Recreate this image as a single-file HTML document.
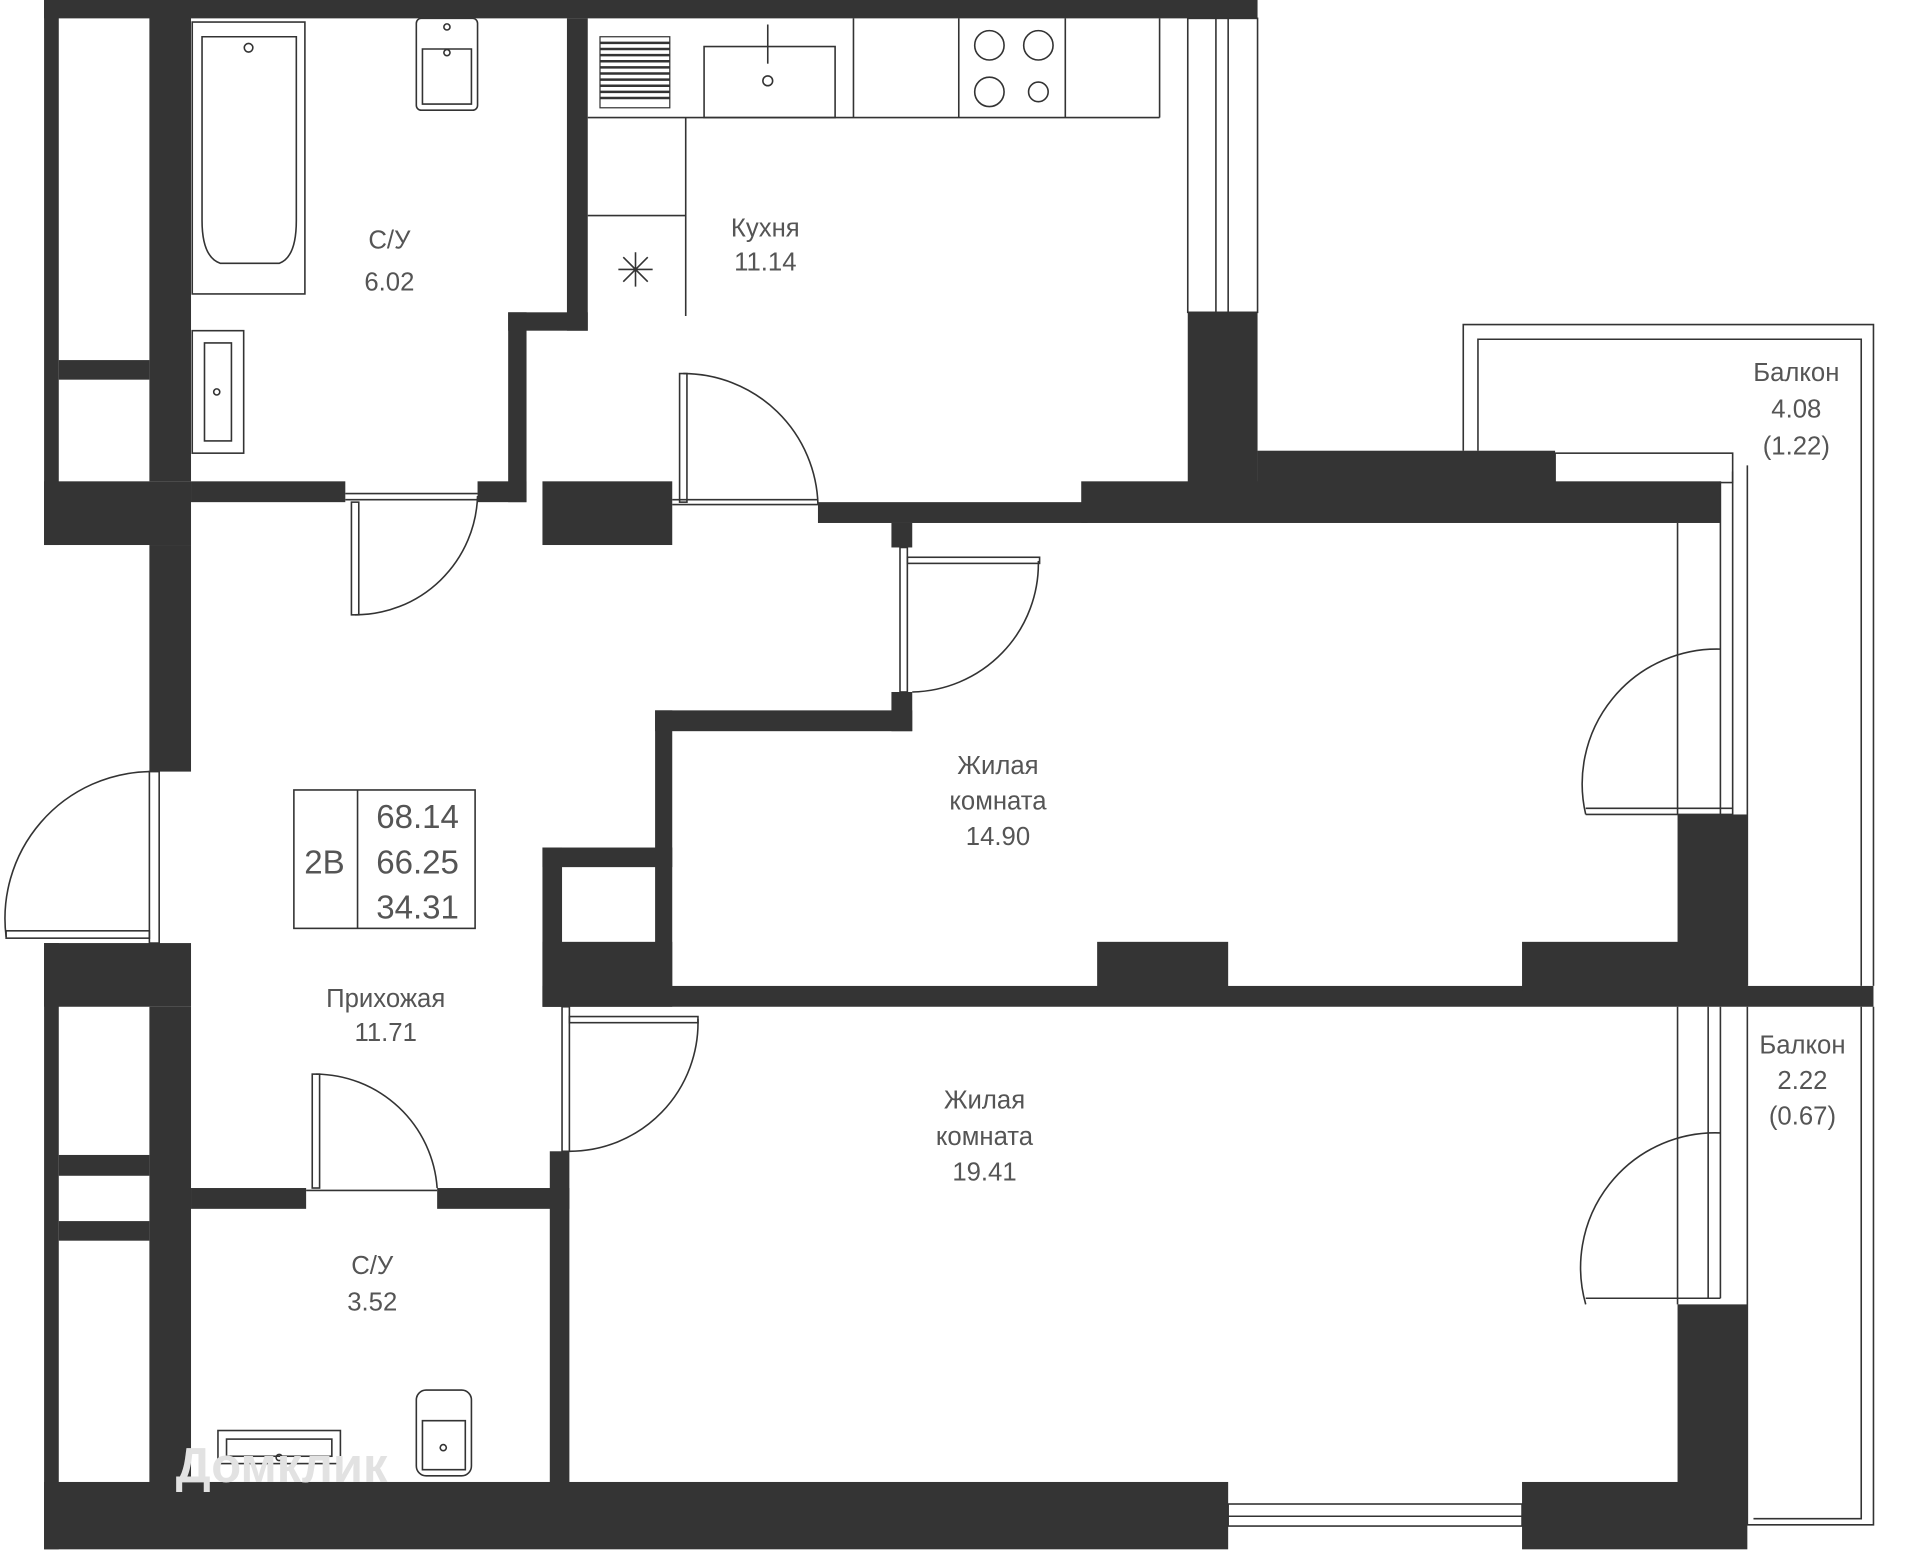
<!DOCTYPE html>
<html><head><meta charset="utf-8"><style>
html,body{margin:0;padding:0;background:#fff;}
svg{display:block}
text{font-family:"Liberation Sans",sans-serif;fill:#555;text-anchor:middle}
</style></head><body>
<svg width="1920" height="1553" viewBox="0 0 1568 1268" preserveAspectRatio="none" xmlns="http://www.w3.org/2000/svg">
<g fill="#343434">
<rect x="36" y="0" width="991" height="15"/>
<rect x="36" y="0" width="12" height="445"/>
<rect x="122" y="0" width="34" height="393"/>
<rect x="48" y="294" width="74" height="16"/>
<rect x="36" y="393" width="120" height="52"/>
<rect x="156" y="393" width="126" height="17"/>
<rect x="390" y="393" width="40" height="17"/>
<rect x="415" y="255" width="15" height="155"/>
<rect x="415" y="255" width="65" height="15"/>
<rect x="463" y="15" width="17" height="255"/>
<rect x="443" y="393" width="106" height="52"/>
<rect x="970" y="255" width="57" height="140"/>
<rect x="1027" y="368" width="243" height="27"/>
<rect x="883" y="393" width="522" height="34"/>
<rect x="668" y="410" width="220" height="17"/>
<rect x="728" y="427" width="17" height="20"/>
<rect x="728" y="565" width="17" height="32"/>
<rect x="535" y="580" width="210" height="17"/>
<rect x="535" y="580" width="14" height="240"/>
<rect x="443" y="692" width="106" height="16"/>
<rect x="443" y="692" width="16" height="130"/>
<rect x="443" y="769" width="106" height="53"/>
<rect x="443" y="805" width="1087" height="17"/>
<rect x="896" y="769" width="107" height="40"/>
<rect x="1243" y="769" width="184" height="40"/>
<rect x="1370" y="665" width="57" height="110"/>
<rect x="122" y="445" width="34" height="185"/>
<rect x="36" y="770" width="120" height="52"/>
<rect x="36" y="770" width="12" height="495"/>
<rect x="122" y="822" width="34" height="390"/>
<rect x="48" y="943" width="74" height="17"/>
<rect x="48" y="997" width="74" height="16"/>
<rect x="156" y="970" width="94" height="17"/>
<rect x="357" y="970" width="108" height="17"/>
<rect x="449" y="940" width="16" height="290"/>
<rect x="36" y="1210" width="967" height="55"/>
<rect x="1243" y="1210" width="184" height="55"/>
<rect x="1370" y="1065" width="57" height="160"/>
</g>
<g fill="none" stroke="#333" stroke-width="1.3">
<rect x="970" y="15" width="57" height="240"/>
<line x1="993" y1="15" x2="993" y2="255"/><line x1="1003" y1="15" x2="1003" y2="255"/>
<path d="M1195 368 V265 H1530 V805"/><path d="M1207 368 V277 H1520 V805"/>
<rect x="1270" y="370" width="145" height="24"/>
<path d="M1405 393 V665 M1415 385 V665 M1427 380 V805"/>
<line x1="1370" y1="427" x2="1370" y2="665"/>
<line x1="1295" y1="660" x2="1415" y2="660"/><line x1="1295" y1="665" x2="1415" y2="665"/>
<path d="M1295 665 A110 110 0 0 1 1405 530"/>
<path d="M1427 822 V1245 H1530 V822 M1520 822 V1240 H1432"/>
<path d="M1370 822 V1065 M1395 822 V1060 M1405 822 V1060"/>
<line x1="1295" y1="1060" x2="1405" y2="1060"/>
<path d="M1295 1065 A110 110 0 0 1 1405 925"/>
<rect x="1003" y="1228" width="240" height="18"/><line x1="1003" y1="1238" x2="1243" y2="1238"/>
<line x1="282" y1="403" x2="390" y2="403"/><line x1="282" y1="408" x2="390" y2="408"/>
<rect x="287" y="410" width="6" height="92"/><path d="M290 502 A100 100 0 0 0 390 405"/>
<rect x="555" y="305" width="6" height="105"/><path d="M558 305 A110 110 0 0 1 668 412"/>
<line x1="549" y1="408" x2="668" y2="408"/><line x1="549" y1="412" x2="668" y2="412"/>
<rect x="735" y="447" width="6" height="118"/><rect x="741" y="455" width="108" height="5"/><path d="M745 565 A105 105 0 0 0 848 458"/>
<rect x="459" y="822" width="6" height="118"/><rect x="465" y="830" width="105" height="5"/><path d="M465 940 A105 105 0 0 0 570 832"/>
<rect x="255" y="877" width="6" height="93"/><path d="M258 877 A100 100 0 0 1 357 970"/>
<line x1="250" y1="972" x2="357" y2="972"/>
<rect x="122" y="630" width="8" height="140"/><path d="M5 765 A120 120 0 0 1 122 630"/><rect x="5" y="760" width="117" height="6"/>
<rect x="157" y="18" width="92" height="222"/>
<path d="M165 30 H242 V180 Q242 210 228 215 H180 Q165 210 165 180 Z"/>
<circle cx="203" cy="39" r="3.5"/>
<rect x="340" y="15" width="50" height="75" rx="4"/><path d="M345 40 H385 V85 H345 Z"/><circle cx="365" cy="43" r="2.5"/><circle cx="365" cy="22" r="2.5"/>
<rect x="157" y="270" width="42" height="100"/><rect x="167" y="280" width="22" height="80"/><circle cx="177" cy="320" r="2.5"/>
<line x1="480" y1="96" x2="947" y2="96"/><line x1="947" y1="15" x2="947" y2="96"/>
<line x1="560" y1="96" x2="560" y2="258"/><line x1="480" y1="176" x2="560" y2="176"/>
<line x1="697" y1="15" x2="697" y2="96"/><line x1="783" y1="15" x2="783" y2="96"/><line x1="870" y1="15" x2="870" y2="96"/>
<rect x="575" y="38" width="107" height="58"/><circle cx="627" cy="66" r="4"/><line x1="627" y1="20" x2="627" y2="52"/>
<circle cx="808" cy="37" r="12"/><circle cx="848" cy="37" r="12"/><circle cx="808" cy="75" r="12"/><circle cx="848" cy="75" r="8"/>
<path d="M505 220 H533 M519 206 V234 M509 210 L529 230 M529 210 L509 230"/>
<rect x="178" y="1168" width="100" height="27"/><rect x="185" y="1175" width="86" height="14"/><circle cx="228" cy="1190" r="2.5"/>
<rect x="340" y="1135" width="45" height="70" rx="8"/><path d="M345 1160 H380 V1200 H345 Z"/><circle cx="362" cy="1182" r="2.5"/>
<rect x="240" y="645" width="148" height="113"/><line x1="292" y1="645" x2="292" y2="758"/>
</g>
<g fill="#333">
<rect x="490" y="30" width="57" height="58" fill="none" stroke="#333"/>
<path d="M490 35h57M490 40h57M490 45h57M490 50h57M490 55h57M490 60h57M490 65h57M490 70h57M490 75h57M490 80h57" stroke="#333" stroke-width="2"/>
</g>
<g font-size="21">
<text x="318" y="203">С/У</text><text x="318" y="237">6.02</text>
<text x="625" y="193">Кухня</text><text x="625" y="221">11.14</text>
<text x="1467" y="311">Балкон</text><text x="1467" y="341">4.08</text><text x="1467" y="371">(1.22)</text>
<text x="815" y="632">Жилая</text><text x="815" y="661">комната</text><text x="815" y="690">14.90</text>
<text x="315" y="822">Прихожая</text><text x="315" y="850">11.71</text>
<text x="1472" y="860">Балкон</text><text x="1472" y="889">2.22</text><text x="1472" y="918">(0.67)</text>
<text x="804" y="905">Жилая</text><text x="804" y="935">комната</text><text x="804" y="964">19.41</text>
<text x="304" y="1040">С/У</text><text x="304" y="1070">3.52</text>
</g>
<g font-size="27">
<text x="265" y="713">2В</text>
<text x="341" y="676">68.14</text><text x="341" y="713">66.25</text><text x="341" y="750">34.31</text>
</g>
<text x="230" y="1210" font-size="40" style="fill:#e2e2e2" font-weight="bold">Домклик</text>
</svg>
</body></html>
